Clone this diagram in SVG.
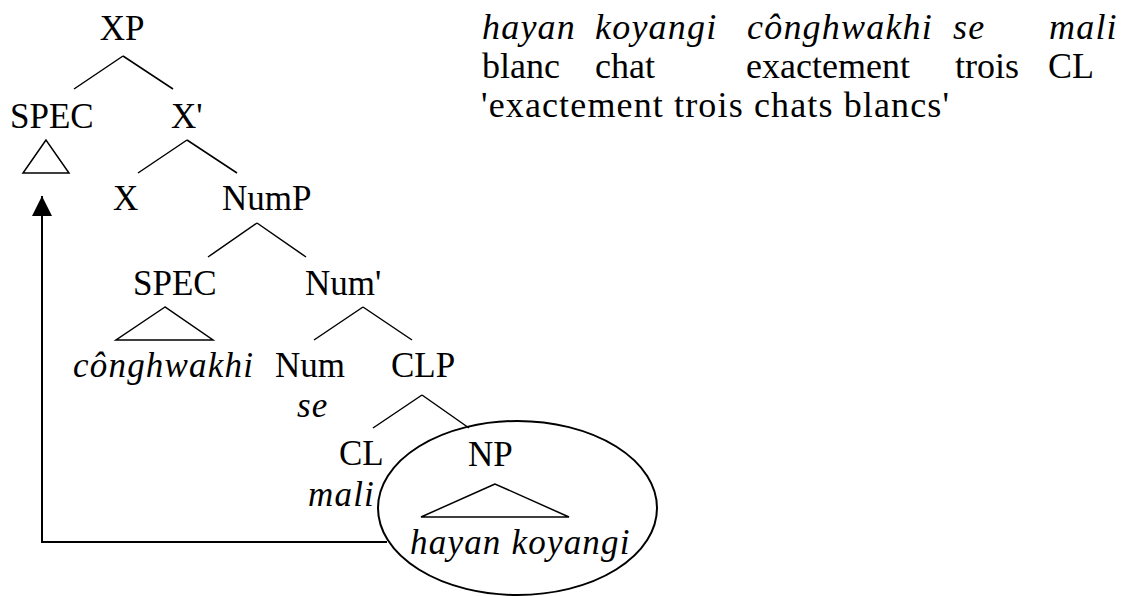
<svg xmlns="http://www.w3.org/2000/svg" width="1128" height="596" viewBox="0 0 1128 596">
<style>
text{font-family:"Liberation Serif","Times New Roman",serif;font-size:35px;fill:#000}
.it{font-style:italic;letter-spacing:1.2px}
.g{font-size:36px}
.gi{font-size:36px;font-style:italic;letter-spacing:1.2px}
.br{stroke:#000;stroke-width:1.5;fill:none}
.tri{stroke:#000;stroke-width:1.5;fill:none;stroke-linejoin:miter}
</style>
<defs>
<marker id="ah" markerWidth="20" markerHeight="20" refX="0" refY="0" orient="auto" markerUnits="userSpaceOnUse" viewBox="-20 -10 20 20">
<path d="M0,0 L-20,-10 L-20,10 Z" fill="#000"/>
</marker>
</defs>
<rect width="1128" height="596" fill="#fff"/>

<g id="connectors">
<path class="br" d="M123,56 L74,89 M123,56 L173,89"/>
<path class="br" d="M187,140 L138,173 M187,140 L237,173"/>
<path class="br" d="M257,223 L208,257 M257,223 L306,257"/>
<path class="br" d="M363,307 L314,340 M363,307 L412,340"/>
<path class="br" d="M422,395 L373,428 M422,395 L469,428"/>
<polyline points="387,542 42,542 42,196" fill="none" stroke="#000" stroke-width="2" marker-end="url(#ah)"/>
</g>

<g id="node-XP"><text x="122" y="40" text-anchor="middle">XP</text></g>
<g id="node-SPEC1"><text x="10" y="128">SPEC</text>
<polygon class="tri" points="46,140 23,173 69,173"/></g>
<g id="node-Xbar"><text x="171" y="128">X'</text></g>
<g id="node-X"><text x="113" y="210">X</text></g>
<g id="node-NumP"><text x="222" y="210">NumP</text></g>
<g id="node-SPEC2"><text x="133" y="295">SPEC</text>
<polygon class="tri" points="165,307 116,340 213,340"/>
<text class="it" x="73" y="377">cônghwakhi</text></g>
<g id="node-Numbar"><text x="305" y="295">Num'</text></g>
<g id="node-Num"><text x="275" y="377">Num</text><text class="it" x="297" y="417">se</text></g>
<g id="node-CLP"><text x="391" y="377">CLP</text></g>
<g id="node-CL"><text x="339" y="465">CL</text><text class="it" x="308" y="506">mali</text></g>
<g id="node-NP"><ellipse cx="517.5" cy="508" rx="139.5" ry="87" fill="none" stroke="#000" stroke-width="2"/>
<text x="468" y="466">NP</text>
<polygon class="tri" points="495,484 421,517 569,517"/>
<text class="it" x="410" y="554">hayan koyangi</text></g>

<g id="gloss">
<text class="gi" x="482" y="39">hayan</text>
<text class="gi" x="595" y="39">koyangi</text>
<text class="gi" x="747" y="39">cônghwakhi</text>
<text class="gi" x="953" y="39">se</text>
<text class="gi" x="1049" y="39">mali</text>
<text class="g" x="482" y="78">blanc</text>
<text class="g" x="595" y="78">chat</text>
<text class="g" x="746" y="78">exactement</text>
<text class="g" x="955" y="78">trois</text>
<text class="g" x="1048" y="78">CL</text>
<text class="g" x="481" y="117" textLength="468" lengthAdjust="spacing">'exactement trois chats blancs'</text>
</g>
</svg>
